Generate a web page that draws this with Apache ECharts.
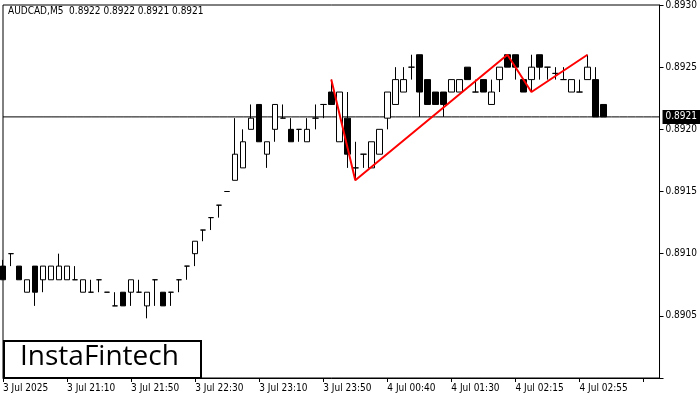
<!DOCTYPE html>
<html><head><meta charset="utf-8">
<script src="https://cdn.jsdelivr.net/npm/echarts@6/dist/echarts.min.js"></script>
<style>html,body{margin:0;padding:0;background:#fff}#c{width:700px;height:400px}</style>
</head><body><div id="c"></div>
<script>
const opens =[.89090,.89100,.89090,.89069,.89090,.89079,.89079,.89079,.89079,.89079,.89069,.89069,.89079,.89069,.89058,.89069,.89069,.89069,.89058,.89079,.89069,.89069,.89079,.89090,.89100,.89119,.89129,.89139,.89150,.89159,.89169,.89200,.89220,.89180,.89200,.89209,.89200,.89200,.89190,.89209,.89220,.89230,.89190,.89209,.89169,.89180,.89169,.89180,.89209,.89220,.89230,.89250,.89260,.89240,.89230,.89230,.89230,.89230,.89250,.89230,.89240,.89220,.89240,.89260,.89260,.89240,.89240,.89260,.89250,.89245,.89240,.89230,.89230,.89240,.89240,.89220];
const highs =[.89095,.89100,.89090,.89079,.89090,.89090,.89090,.89100,.89090,.89090,.89079,.89079,.89079,.89069,.89069,.89069,.89079,.89079,.89069,.89079,.89069,.89069,.89079,.89090,.89110,.89119,.89129,.89139,.89150,.89209,.89200,.89220,.89220,.89190,.89220,.89220,.89209,.89200,.89209,.89220,.89220,.89240,.89230,.89230,.89190,.89180,.89190,.89200,.89230,.89250,.89250,.89260,.89260,.89240,.89230,.89230,.89240,.89240,.89250,.89240,.89240,.89240,.89250,.89260,.89260,.89240,.89260,.89260,.89250,.89250,.89250,.89240,.89240,.89260,.89250,.89220];
const lows  =[.89079,.89090,.89079,.89069,.89058,.89069,.89079,.89079,.89079,.89079,.89069,.89069,.89069,.89069,.89058,.89058,.89058,.89069,.89048,.89058,.89058,.89058,.89069,.89079,.89090,.89110,.89119,.89129,.89150,.89159,.89169,.89200,.89190,.89169,.89190,.89209,.89190,.89190,.89190,.89200,.89209,.89220,.89190,.89169,.89159,.89169,.89169,.89180,.89200,.89220,.89230,.89240,.89210,.89220,.89220,.89210,.89230,.89230,.89240,.89230,.89230,.89220,.89230,.89250,.89240,.89230,.89230,.89240,.89240,.89240,.89240,.89230,.89230,.89240,.89210,.89210];
const closes=[.89079,.89100,.89079,.89079,.89069,.89090,.89090,.89090,.89090,.89079,.89079,.89069,.89079,.89069,.89058,.89058,.89079,.89069,.89069,.89079,.89058,.89069,.89079,.89090,.89110,.89119,.89129,.89139,.89150,.89180,.89190,.89209,.89190,.89190,.89220,.89209,.89190,.89200,.89200,.89209,.89220,.89220,.89230,.89180,.89169,.89180,.89190,.89200,.89230,.89240,.89240,.89250,.89230,.89220,.89220,.89220,.89240,.89240,.89240,.89230,.89230,.89230,.89250,.89250,.89250,.89230,.89250,.89250,.89250,.89245,.89240,.89240,.89230,.89250,.89210,.89210];
const tickLabels=['3 Jul 2025','3 Jul 21:10','3 Jul 21:50','3 Jul 22:30','3 Jul 23:10','3 Jul 23:50','4 Jul 00:40','4 Jul 01:30','4 Jul 02:15','4 Jul 02:55'];
const patternIdx=[41,44,63,66,73];
const patternVal=[.89240,.89159,.89260,.89230,.89260];
const currentPrice=0.8921;
const title='AUDCAD,M5  0.8922 0.8922 0.8921 0.8921';

const N=83;
const cats=[];for(let i=0;i<N;i++)cats.push(i);
const candle=opens.map((o,i)=>[o,closes[i],lows[i],highs[i]]);
const red=new Array(N).fill(null);patternIdx.forEach((k,j)=>red[k]=patternVal[j]);
const priceLine=new Array(N).fill(currentPrice);

const chart=echarts.init(document.getElementById('c'));
chart.setOption({
 animation:false,
 grid:{left:3,right:40,top:3,bottom:22,show:true,borderColor:'#000',borderWidth:1},
 xAxis:{type:'category',data:cats,boundaryGap:false,
  axisLine:{show:true,lineStyle:{color:'#000'}},
  axisTick:{show:true,interval:(i)=>i%8===0,length:4,lineStyle:{color:'#000'}},
  axisLabel:{interval:(i)=>i%8===0&&i/8<tickLabels.length,formatter:(v,i)=>tickLabels[i/8]||'',align:'left',fontSize:10,color:'#000',margin:5,fontFamily:'DejaVu Sans Condensed, DejaVu Sans'},
  splitLine:{show:false}},
 yAxis:{type:'value',position:'right',min:0.8900,max:0.8930,interval:0.0005,
  axisLine:{show:true,lineStyle:{color:'#000'}},
  axisTick:{show:true,length:4,lineStyle:{color:'#000'}},
  axisLabel:{formatter:v=>v<0.89001?'':v.toFixed(4),fontSize:10,color:'#000',margin:6,fontFamily:'DejaVu Sans Condensed, DejaVu Sans'},
  splitLine:{show:false}},
 series:[
  {type:'line',data:priceLine,symbol:'none',lineStyle:{color:'#000',width:1},z:1,
   endLabel:{show:true,formatter:currentPrice.toFixed(4),backgroundColor:'#000',color:'#fff',fontSize:10,padding:[2,3],distance:3,fontFamily:'DejaVu Sans Condensed, DejaVu Sans'}},
  {type:'candlestick',data:candle,barWidth:6,z:3,
   itemStyle:{color:'#fff',color0:'#000',borderColor:'#000',borderColor0:'#000',borderWidth:1}},
  {type:'line',data:red,connectNulls:true,symbol:'none',lineStyle:{color:'#f00',width:2},z:5}
 ],
 graphic:[
  {type:'text',left:8,top:6,style:{text:title,fontSize:10,fill:'#000',fontFamily:'DejaVu Sans Condensed, DejaVu Sans'}},
  {type:'rect',left:3,top:340,shape:{width:197,height:37},style:{fill:'#fff',stroke:'#000',lineWidth:2},z:10},
  {type:'text',left:20,top:343,style:{text:'InstaFintech',fontSize:28,fontWeight:500,fill:'#000',fontFamily:'Open Sans, Noto Sans'},z:11}
 ]
});
</script></body></html>
